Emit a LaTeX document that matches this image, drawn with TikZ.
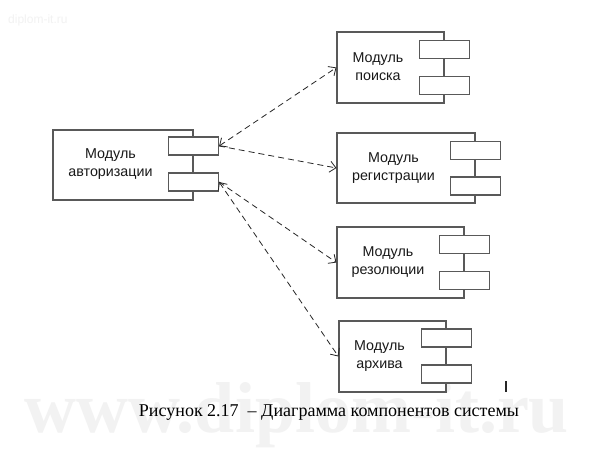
\documentclass[tikz,border=0pt]{standalone}
\usepackage{fontspec}
\setmainfont{Liberation Serif}
\newfontfamily\arialf{Liberation Sans}
\usetikzlibrary{arrows.meta}
\begin{document}
\begin{tikzpicture}[x=1pt,y=-1pt,
 box/.style={draw=black!65,line width=1.1pt,fill=white,inner sep=0pt},
 port/.style={draw=black!65,line width=1.1pt,fill=white,minimum width=50pt,minimum height=18pt,inner sep=0pt},
 lbl/.style={font=\arialf\fontsize{14.3}{18}\selectfont,align=center,text=black!90,inner sep=0pt},
 dep/.style={draw=black!85,line width=0.8pt,dash pattern=on 6pt off 4pt},
 >={Straight Barb[length=6pt,width=11pt]},
 wm/.style={text=black!5,inner sep=0pt}
]
\useasboundingbox[fill=white] (0,0) rectangle (592,460);
% watermarks
\node[wm,font=\arialf\fontsize{12}{14}\selectfont,anchor=west] (wm1) at (8,20) {diplom-it.ru};
\node[wm,font=\bfseries\fontsize{72}{78}\selectfont,anchor=base] (wm2) at (297,432) {www.diplom-it.ru};

% authorization module
\node[box,minimum width=140pt,minimum height=70pt] (auth) at (123,165) {};
\node[lbl] (authL) at (110.5,164) {Модуль\\авторизации};
\node[port] (auth1) at (auth.east |- 0,146) {};
\node[port] (auth2) at (auth.east |- 0,182) {};

% search module
\node[box,minimum width=107pt,minimum height=71pt] (poisk) at (390.5,67.5) {};
\node[lbl] (poiskL) at (378,66.5) {Модуль\\поиска};
\node[port] (poisk1) at (poisk.east |- 0,49.5) {};
\node[port] (poisk2) at (poisk.east |- 0,85.5) {};

% registration module
\node[box,minimum width=138pt,minimum height=70pt] (reg) at (406,168) {};
\node[lbl] (regL) at (393.5,168) {Модуль\\регистрации};
\node[port] (reg1) at (reg.east |- 0,150.5) {};
\node[port] (reg2) at (reg.east |- 0,186) {};

% resolution module
\node[box,minimum width=127pt,minimum height=71pt] (res) at (400.5,262.5) {};
\node[lbl] (resL) at (388,262.5) {Модуль\\резолюции};
\node[port] (res1) at (res.east |- 0,244.5) {};
\node[port] (res2) at (res.east |- 0,280.5) {};

% archive module
\node[box,minimum width=107pt,minimum height=71pt] (arch) at (392.5,356.5) {};
\node[lbl] (archL) at (379.5,356) {Модуль\\архива};
\node[port] (arch1) at (arch.east |- 0,338) {};
\node[port] (arch2) at (arch.east |- 0,374) {};

% dependencies
\draw[dep,<->] (auth1.east) -- (poisk.west);
\draw[dep,->] (auth1.east) -- (reg.west);
\draw[dep,->] (auth2.east) -- (res.west);
\draw[dep,<->] (auth2.east) -- (arch.west);

% stray mark
\draw[line width=1.3pt,black!85] (506,381) -- (506,392);

% caption
\node[font=\fontsize{18}{21}\selectfont,inner sep=0pt] (cap) at (329,412) {Рисунок 2.17\ \ – Диаграмма компонентов системы};
\end{tikzpicture}
\end{document}
